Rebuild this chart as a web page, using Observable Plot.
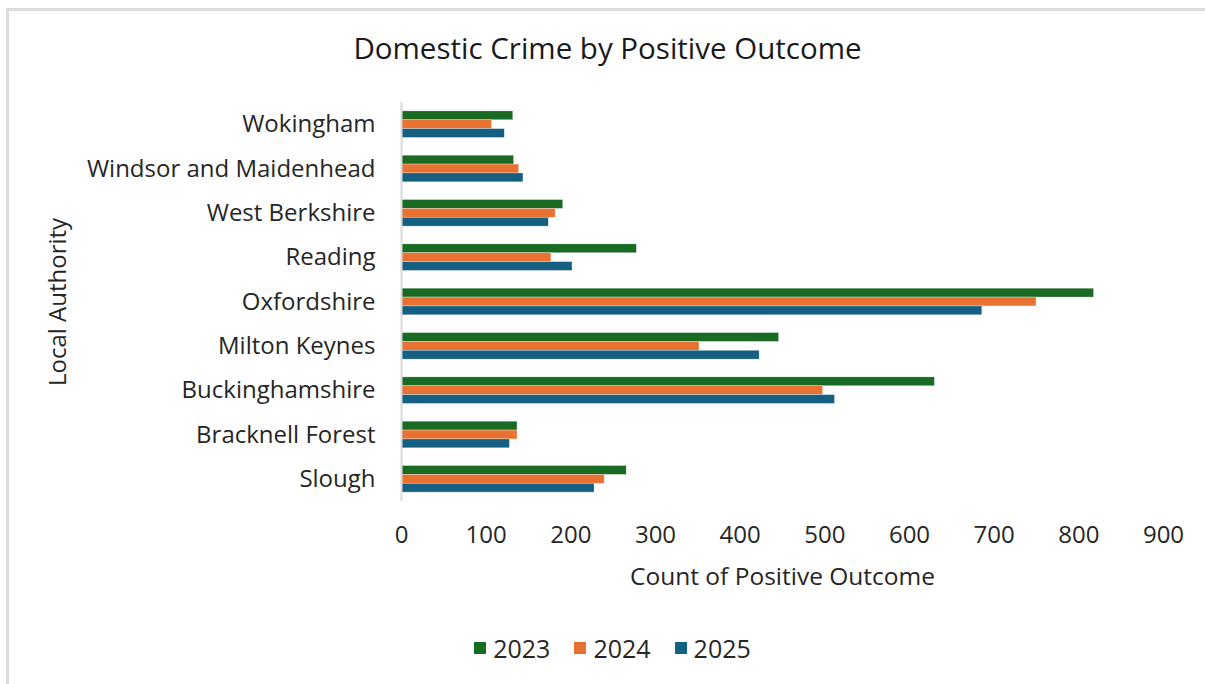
<!DOCTYPE html>
<html>
<head>
<meta charset="utf-8">
<script src="https://cdn.jsdelivr.net/npm/d3@7"></script>
<script src="https://cdn.jsdelivr.net/npm/@observablehq/plot@0.6"></script>
<style>
  html, body { margin: 0; padding: 0; background: #fff; }
  #wrap { position: relative; width: 1205px; height: 684px; overflow: hidden; font-family: "Open Sans", sans-serif; color: #262626; }
  #frame { position: absolute; left: 6px; top: 8px; width: 1300px; height: 800px; border-top: 3px solid #dcdcdc; border-left: 3px solid #dcdcdc; }
  #title { position: absolute; left: 0; width: 1215px; top: 27px; text-align: center; font-size: 29.5px; color: #1a1a1a; }
  #chart { position: absolute; left: 0; top: 80px; }
  #legend { position: absolute; left: 0; width: 1205px; top: 631px; display: flex; justify-content: center; gap: 24px; font-size: 25px; color: #262626; transform: translateX(10px); }
  #legend span.item { display: inline-flex; align-items: center; }
  #legend span.sw { display: inline-block; width: 12px; height: 12px; margin-right: 7px; }
</style>
</head>
<body>
<div id="wrap">
  <div id="frame"></div>
  <div id="title">Domestic Crime by Positive Outcome</div>
  <div id="chart"></div>
  <div id="legend"></div>
</div>
<script>
const authorities = ["Wokingham", "Windsor and Maidenhead", "West Berkshire", "Reading", "Oxfordshire", "Milton Keynes", "Buckinghamshire", "Bracknell Forest", "Slough"];
const years = ["2023", "2024", "2025"];
const values2023 = [132, 133, 191, 278, 818, 446, 630, 137, 266];
const values2024 = [107, 139, 182, 177, 750, 352, 498, 137, 240];
const values2025 = [122, 144, 174, 202, 686, 423, 512, 128, 228];
const colors = ["#196B24", "#E97132", "#156082"];
const xTicks = [0, 100, 200, 300, 400, 500, 600, 700, 800, 900];

const series = [values2023, values2024, values2025];
const data = [];
authorities.forEach((a, i) => years.forEach((y, j) => data.push({authority: a, year: y, value: series[j][i]})));

// Band slots: for each authority a gap, three year bars, and a gap
const slots = [];
authorities.forEach((a) => {
  slots.push(a + "|gapA");
  years.forEach(y => slots.push(a + "|" + y));
  slots.push(a + "|gapB");
});

const plot = Plot.plot({
  width: 1205,
  height: 520,
  marginLeft: 401,
  marginRight: 42,
  marginTop: 22,
  marginBottom: 99,
  style: {fontFamily: "Open Sans, sans-serif", color: "#262626", background: "transparent"},
  x: {domain: [0, 900]},
  y: {domain: slots, padding: 0},
  color: {domain: years, range: colors},
  marks: [
    Plot.barX(data, {
      x: "value",
      y: (d) => d.authority + "|" + d.year,
      fill: "year",
      stroke: "#ffffff",
      strokeOpacity: 0.5,
      strokeWidth: 0.6
    }),
    Plot.ruleX([0], {stroke: "#d9d9d9", strokeWidth: 2}),
    Plot.axisX(xTicks, {
      anchor: "bottom",
      tickSize: 0,
      tickPadding: 24,
      fontSize: 24,
      label: null
    }),
    Plot.text(["Count of Positive Outcome"], {
      frameAnchor: "bottom",
      dy: 83,
      fontSize: 24.5,
      fill: "#262626"
    }),
    Plot.axisY(authorities.map(a => a + "|2024"), {
      anchor: "left",
      tickSize: 0,
      tickPadding: 26,
      fontSize: 24,
      tickFormat: (d) => d.split("|")[0],
      label: null
    }),
    Plot.text(["Local Authority"], {
      frameAnchor: "left",
      textAnchor: "middle",
      dx: -343,
      rotate: -90,
      fontSize: 24,
      fill: "#262626"
    })
  ]
});
document.getElementById("chart").appendChild(plot);

const legend = document.getElementById("legend");
years.forEach((y, i) => {
  const item = document.createElement("span");
  item.className = "item";
  const sw = document.createElement("span");
  sw.className = "sw";
  sw.style.background = colors[i];
  item.appendChild(sw);
  item.appendChild(document.createTextNode(y));
  legend.appendChild(item);
});
</script>
</body>
</html>
